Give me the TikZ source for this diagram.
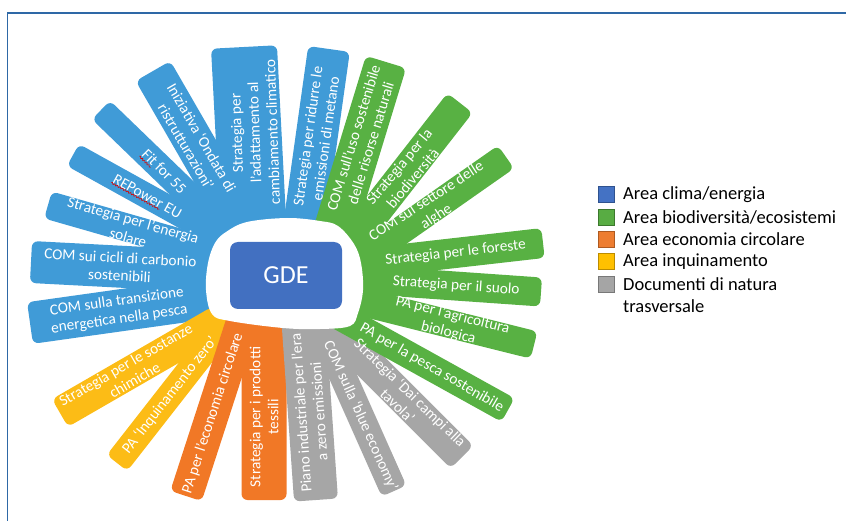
\documentclass[tikz,border=0pt]{standalone}
\usepackage{fontspec}
\setmainfont{Carlito}
\usetikzlibrary{calc,decorations.pathmorphing}

\definecolor{petalblue}{RGB}{64,155,215}
\definecolor{petalgreen}{RGB}{88,177,67}
\definecolor{petalorange}{RGB}{241,120,38}
\definecolor{petalyellow}{RGB}{252,188,22}
\definecolor{petalgray}{RGB}{166,166,166}
\definecolor{gdeblue}{RGB}{66,112,193}
\definecolor{framecol}{RGB}{46,104,166}

\tikzset{
  petaltext/.style={text=white, font=\fontsize{15.3}{18}\selectfont, align=center, inner sep=0pt},
  gdebox/.style={fill=gdeblue, rounded corners=8pt, minimum width=112pt, minimum height=67pt,
                 text=white, font=\fontsize{26}{30}\selectfont},
  legendsq/.style={line width=1pt, minimum size=16pt, inner sep=0pt},
  legendtext/.style={anchor=west, inner sep=0pt, font=\fontsize{18.5}{22}\selectfont},
  spellmark/.style={draw=red!85!black, line width=0.6pt, decorate,
                    decoration={snake, amplitude=0.8pt, segment length=3pt}},
  framestyle/.style={draw=framecol, line width=1.6pt},
}

% petal body: outer end (x, y from the top), outward angle, length, width, colour
\newcommand\petalfill[6]{%
  \begin{scope}[shift={(#1,-#2)}, rotate=#3]
    \fill[#6, rounded corners=6pt] (-#4,{-#5/2}) rectangle (0,{#5/2});
  \end{scope}}
% petal label: outer end, outward angle, position in the petal's own frame, node options, text
\newcommand\petallabel[6]{%
  \begin{scope}[shift={(#1,-#2)}, rotate=#3]
    \node[petaltext, #5] at (#4) {#6};
  \end{scope}}

\begin{document}
\begin{tikzpicture}[x=1pt, y=1pt]
\useasboundingbox (0,-521) rectangle (846,0);

% frame lines
\draw[framestyle] (7.5,-521) -- (7.5,-13) -- (846,-13);

% ---- petal bodies ----
% area clima/energia
\petalfill{329}{49}{82}{190}{42}{petalblue}
\petalfill{244}{47}{93}{190}{66}{petalblue}
\petalfill{153}{71}{120}{200}{40}{petalblue}
\petalfill{101}{110}{136}{205}{26}{petalblue}
\petalfill{73}{155}{151}{200}{25}{petalblue}
\petalfill{48}{205}{164}{205}{28}{petalblue}
\petallabel{48}{205}{164}{-86,0}{rotate=-16,name=tb3}{Strategia per l’energia\\solare}
\petalfill{31}{262}{177}{215}{42}{petalblue}
\petalfill{30}{323}{188}{215}{42}{petalblue}
% area inquinamento
\petalfill{60}{413}{-150}{185}{32}{petalyellow}
\petalfill{117}{463}{-128}{190}{26}{petalyellow}
% area economia circolare
\petalfill{186}{496}{-108}{190}{33}{petalorange}
\petalfill{264}{500}{-90}{190}{45}{petalorange}
% documenti di natura trasversale
\petalfill{316}{500}{-86}{190}{44}{petalgray}
\petalfill{394}{491}{-66}{200}{27}{petalgray}
\petalfill{462}{457}{-45}{210}{32}{petalgray}
% area biodiversita/ecosistemi
\petalfill{386}{62}{73}{195}{42}{petalgreen}
\petalfill{460}{103}{52}{200}{32}{petalgreen}
\petalfill{506}{157}{35}{205}{28}{petalgreen}
\petalfill{543}{243}{6.5}{215}{30}{petalgreen}
\petalfill{541}{292}{-4}{215}{29}{petalgreen}
\petalfill{534}{345}{-14}{215}{28}{petalgreen}
\petallabel{534}{345}{-14}{-86,0}{rotate=-14,name=tg6}{PA per l’agricoltura\\biologica}
\petalfill{508}{410}{-29}{215}{27}{petalgreen}

% white hole around the centre
\fill[white] plot[smooth cycle, tension=0.6] coordinates {
  (208,-263) (215,-243) (226,-232) (247,-222) (287,-218) (320,-221) (338,-226)
  (354,-244) (361,-263) (363,-290) (358,-313) (350,-326) (320,-329) (283,-328)
  (230,-321) (212,-314) (206,-290)};

\node[gdebox] (gde) at (286,-275.5) {GDE};

% ---- petal labels ----
\petallabel{329}{49}{82}{-89,0}{rotate=82,name=tb8}{Strategia per ridurre le\\emissioni di metano}
\petallabel{244}{47}{93}{-86,-6}{rotate=92,name=tb7}{Strategia per\\l’adattamento al\\cambiamento climatico}
\petallabel{153}{71}{120}{-82,0}{rotate=-60,name=tb6}{Iniziativa ‘Ondata di\\ristrutturazioni’}
\petallabel{101}{110}{136}{-88,0}{rotate=-45,name=tb5}{Fit for 55}
\petallabel{73}{155}{151}{-85,0}{rotate=-29,name=tb4}{REPower EU}
\petallabel{31}{262}{177}{-89,0}{rotate=-3,name=tb2}{COM sui cicli di carbonio\\sostenibili}
\petallabel{30}{323}{188}{-89,0}{rotate=8,name=tb1}{COM sulla transizione\\energetica nella pesca}
\petallabel{60}{413}{-150}{-81,0}{rotate=30,name=ty2}{Strategia per le sostanze\\chimiche}
\petallabel{117}{463}{-128}{-86,0}{rotate=52,name=ty1}{PA ‘Inquinamento zero’}
\petallabel{186}{496}{-108}{-87,0}{rotate=72,name=to2}{PA per l’economia circolare}
\petallabel{264}{500}{-90}{-83,0}{rotate=90,name=to1}{Strategia per i prodotti\\tessili}
\petallabel{316}{500}{-86}{-88,0}{rotate=94,name=tr3}{Piano industriale per l’era\\a zero emissioni}
\petallabel{394}{491}{-66}{-82,0}{rotate=-66,name=tr2}{COM sulla ‘blue economy’}
\petallabel{462}{457}{-45}{-82,0}{rotate=-44,name=tr1}{Strategia ‘Dai campi alla\\tavola’}
\petallabel{386}{62}{73}{-82,0}{rotate=73,name=tg1}{COM sull’uso sostenibile\\delle risorse naturali}
\petallabel{460}{103}{52}{-88,0}{rotate=50,name=tg2}{Strategia per la\\biodiversità}
\petallabel{506}{157}{35}{-91,0}{rotate=33,name=tg3}{COM sul settore delle\\alghe}
\petallabel{543}{243}{6.5}{-88,0}{rotate=6.5,name=tg4}{Strategia per le foreste}
\petallabel{541}{292}{-4}{-85,0}{rotate=-4,name=tg5}{Strategia per il suolo}
\petallabel{508}{410}{-29}{-87,0}{rotate=-30,name=tg7}{PA per la pesca sostenibile}

% spelling marks under two labels
\coordinate (f1) at ($(tb5.south west)!1.5pt!-90:(tb5.south east)$);
\coordinate (f2) at ($(tb5.south east)!1.5pt!90:(tb5.south west)$);
\draw[spellmark] (f1) -- ($(f1)!0.28!(f2)$);
\coordinate (r1) at ($(tb4.south west)!0.5pt!-90:(tb4.south east)$);
\coordinate (r2) at ($(tb4.south east)!0.5pt!90:(tb4.south west)$);
\draw[spellmark] (r1) -- ($(r1)!0.72!(r2)$);

% legend
\node[legendsq, draw={rgb,255:red,47;green,82;blue,143}, fill={rgb,255:red,68;green,114;blue,196}] (s1) at (606,-195) {};
\node[legendsq, draw={rgb,255:red,60;green,120;blue,45}, fill={rgb,255:red,88;green,172;blue,67}] (s2) at (606,-217.3) {};
\node[legendsq, draw={rgb,255:red,174;green,90;blue,33}, fill={rgb,255:red,237;green,125;blue,49}] (s3) at (606,-239.6) {};
\node[legendsq, draw={rgb,255:red,188;green,140;blue,0}, fill={rgb,255:red,255;green,192;blue,0}] (s4) at (606,-261.9) {};
\node[legendsq, draw={rgb,255:red,120;green,120;blue,120}, fill={rgb,255:red,165;green,165;blue,165}] (s5) at (606,-284.2) {};
\node[legendtext] (t1) at (623,-195) {Area clima/energia};
\node[legendtext] (t2) at (623,-217.3) {Area biodiversità/ecosistemi};
\node[legendtext] (t3) at (623,-239.6) {Area economia circolare};
\node[legendtext] (t4) at (623,-261.9) {Area inquinamento};
\node[legendtext] (t5) at (623,-284.2) {Documenti di natura};
\node[legendtext] (t6) at (623,-306.5) {trasversale};
\end{tikzpicture}
\end{document}
